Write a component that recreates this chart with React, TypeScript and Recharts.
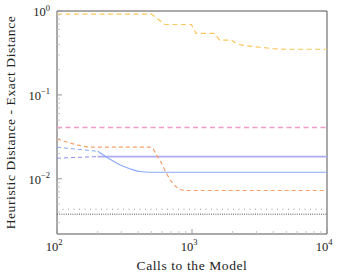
import React from 'react';
import { LineChart, Line, XAxis, YAxis, ReferenceArea } from 'recharts';

// ---- ticks ----
const xMajorTicks = [100, 1000, 10000];
const xMajorExponents = ['2', '3', '4'];
const xMinorTicks = [200, 300, 400, 500, 600, 700, 800, 900, 2000, 3000, 4000, 5000, 6000, 7000, 8000, 9000];
const yMajorTicks = [0.01, 0.1, 1];
const yMajorExponents = ['\u22122', '\u22121', '0'];
const yMinorTicks = [
  0.003, 0.004, 0.005, 0.006, 0.007, 0.008, 0.009,
  0.02, 0.03, 0.04, 0.05, 0.06, 0.07, 0.08, 0.09,
  0.2, 0.3, 0.4, 0.5, 0.6, 0.7, 0.8, 0.9,
];

// ---- series ----
const goldX = [100, 500, 630, 990, 1070, 1470, 1600, 1950, 2200, 2500, 3200, 4000, 5000, 10000];
const goldY = [0.92, 0.92, 0.69, 0.69, 0.54, 0.54, 0.45, 0.45, 0.40, 0.385, 0.37, 0.355, 0.35, 0.35];

const pinkX = [100, 10000];
const pinkY = [0.0408, 0.0408];

const orangeX = [100, 190, 500, 545, 593, 646, 703, 787, 883, 10000];
const orangeY = [0.030, 0.0238, 0.0238, 0.0193, 0.0154, 0.0117, 0.0093, 0.00775, 0.00726, 0.00726];

const blueDashX = [100, 200];
const blueDashY = [0.0238, 0.0213];
const blueX = [200, 240, 291, 346, 410, 486, 10000];
const blueY = [0.0213, 0.0176, 0.0147, 0.0132, 0.0122, 0.0120, 0.0120];

const purpleDashX = [100, 200];
const purpleDashY = [0.0176, 0.0184];
const purpleX = [200, 10000];
const purpleY = [0.0184, 0.0184];

const grayUpperX = [100, 10000];
const grayUpperY = [0.00434, 0.00434];
const grayLowerX = [100, 10000];
const grayLowerY = [0.00379, 0.00379];

const zip = (xs: number[], ys: number[]) => xs.map((x, i) => ({ x, y: ys[i] }));

const X_DOMAIN = [100, 10000];
const Y_DOMAIN = [0.0022, 1];
const TICK_MARGIN = 7;
const TICK_FONT = 'Liberation Serif, serif';
const LABEL_FONT = 'Liberation Serif, serif';

const YTick = (props: any) => {
  const { x, y, payload } = props;
  const v = payload.value;
  const mi = yMajorTicks.indexOf(v);
  const edge = x + TICK_MARGIN;
  const major = mi >= 0;
  return (
    <g>
      <line x1={edge} x2={edge + (major ? 5 : 3)} y1={y} y2={y} stroke={major ? '#999' : '#c4c4c4'} strokeWidth={1} />
      {major && (
        <text x={x} y={y + 5} textAnchor="end" fontFamily={TICK_FONT} fontSize={12.5} fill="#222">
          <tspan>10</tspan>
          <tspan dy={-5.5} fontSize={8.5}>{yMajorExponents[mi]}</tspan>
        </text>
      )}
    </g>
  );
};

const XTick = (props: any) => {
  const { x, y, payload } = props;
  const v = payload.value;
  const mi = xMajorTicks.indexOf(v);
  const edge = y - TICK_MARGIN;
  const major = mi >= 0;
  return (
    <g>
      <line x1={x} x2={x} y1={edge} y2={edge - (major ? 5 : 3)} stroke={major ? '#999' : '#c4c4c4'} strokeWidth={1} />
      {major && (
        <text x={x - 3} y={edge + 16.5} textAnchor="middle" fontFamily={TICK_FONT} fontSize={12.5} fill="#222">
          <tspan>10</tspan>
          <tspan dy={-5.5} fontSize={8.5}>{xMajorExponents[mi]}</tspan>
        </text>
      )}
    </g>
  );
};

const XLabel = (props: any) => {
  const vb = props.viewBox;
  return (
    <text x={vb.x + vb.width / 2} y={vb.y + 36} textAnchor="middle" fontFamily={LABEL_FONT} fontSize={13.5} letterSpacing={0.6} fill="#222">
      Calls to the Model
    </text>
  );
};

const YLabel = (props: any) => {
  const vb = props.viewBox;
  const cx = 15;
  const cy = vb.y + vb.height / 2;
  return (
    <text x={cx} y={cy} transform={`rotate(-90 ${cx} ${cy})`} textAnchor="middle" fontFamily={LABEL_FONT} fontSize={13.5} letterSpacing={0.6} fill="#222">
      Heuristic Distance - Exact Distance
    </text>
  );
};

export default function App() {
  return (
    <div style={{ position: 'absolute', left: 0, top: 0, width: 342, height: 275, background: '#fff' }}>
      <LineChart width={342} height={275} margin={{ top: 11, right: 15, left: 12, bottom: 11 }}>
        <XAxis
          dataKey="x"
          type="number"
          scale="log"
          domain={X_DOMAIN}
          allowDataOverflow
          ticks={[...xMajorTicks, ...xMinorTicks]}
          interval={0}
          tickLine={false}
          tickSize={0}
          tickMargin={TICK_MARGIN}
          axisLine={false}
          tick={<XTick />}
          height={30}
          label={<XLabel />}
        />
        <YAxis
          type="number"
          scale="log"
          domain={Y_DOMAIN}
          allowDataOverflow
          ticks={[...yMajorTicks, ...yMinorTicks]}
          interval={0}
          tickLine={false}
          tickSize={0}
          tickMargin={TICK_MARGIN}
          axisLine={false}
          tick={<YTick />}
          width={45}
          label={<YLabel />}
        />
        <Line data={zip(grayUpperX, grayUpperY)} dataKey="y" type="linear" stroke="#9a9a9a" strokeWidth={1} strokeDasharray="1 4.5" dot={false} isAnimationActive={false} />
        <Line data={zip(grayLowerX, grayLowerY)} dataKey="y" type="linear" stroke="#555" strokeWidth={1} strokeDasharray="1 1.2" dot={false} isAnimationActive={false} />
        <Line data={zip(pinkX, pinkY)} dataKey="y" type="linear" stroke="#f59ac8" strokeWidth={1.5} strokeDasharray="5 3.5" dot={false} isAnimationActive={false} />
        <Line data={zip(purpleDashX, purpleDashY)} dataKey="y" type="linear" stroke="#8c8cf0" strokeWidth={1} strokeDasharray="4 3" dot={false} isAnimationActive={false} />
        <Line data={zip(purpleX, purpleY)} dataKey="y" type="linear" stroke="#aeaaf4" strokeWidth={1.8} dot={false} isAnimationActive={false} />
        <Line data={zip(blueDashX, blueDashY)} dataKey="y" type="linear" stroke="#88a8f8" strokeWidth={1} strokeDasharray="4 3" dot={false} isAnimationActive={false} />
        <Line data={zip(blueX, blueY)} dataKey="y" type="monotone" stroke="#88a8f8" strokeWidth={1.1} dot={false} isAnimationActive={false} />
        <Line data={zip(orangeX, orangeY)} dataKey="y" type="monotone" stroke="#f6a06a" strokeWidth={1.2} strokeDasharray="4 3" dot={false} isAnimationActive={false} />
        <Line data={zip(goldX, goldY)} dataKey="y" type="linear" stroke="#fdc75a" strokeWidth={1.2} strokeDasharray="5 3.5" dot={false} isAnimationActive={false} />
        <ReferenceArea x1={X_DOMAIN[0]} x2={X_DOMAIN[1]} y1={Y_DOMAIN[0]} y2={Y_DOMAIN[1]} fill="none" fillOpacity={0} stroke="#555" strokeWidth={1} ifOverflow="visible" />
      </LineChart>
    </div>
  );
}
